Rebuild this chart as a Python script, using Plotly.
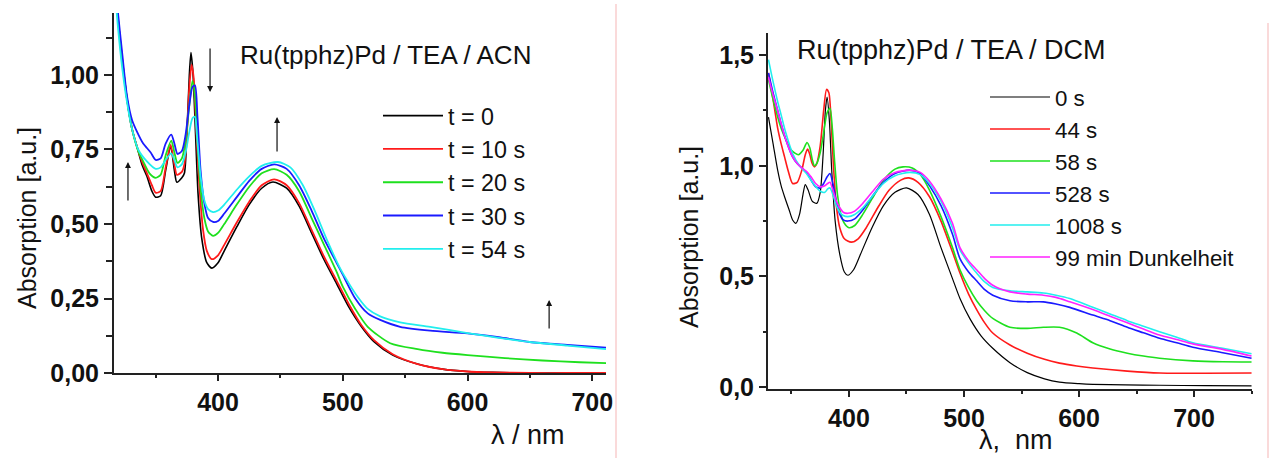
import plotly.graph_objects as go

# ---------------- Left panel: Ru(tpphz)Pd / TEA / ACN ----------------
acn_labels = ["t = 0", "t = 10 s", "t = 20 s", "t = 30 s", "t = 54 s"]
acn_colors = ["#000000", "#ff1a1a", "#1ee01e", "#1a1aff", "#22eeee"]
acn_widths = [1.6, 1.8, 1.8, 1.8, 1.8]

acn_wl_0 = [317, 320, 323, 327, 331, 335, 339, 343, 347, 350, 354, 358, 362, 365, 367, 371, 373,
            375, 377, 378.3, 380, 382, 384, 387, 391, 395, 400, 405, 415, 425, 435, 444, 455, 465,
            475, 485, 495, 505, 515, 525, 540, 560, 580, 600, 620, 650, 680, 711]
acn_a_0 = [1.32, 1.18, 1.06, 0.92, 0.82, 0.76, 0.70, 0.66, 0.61, 0.59, 0.595, 0.68, 0.76, 0.68,
           0.64, 0.655, 0.67, 0.80, 1.0, 1.075, 1.0, 0.80, 0.60, 0.45, 0.37, 0.352, 0.37, 0.41,
           0.49, 0.565, 0.62, 0.641, 0.62, 0.56, 0.47, 0.38, 0.30, 0.22, 0.155, 0.105, 0.06,
           0.03, 0.013, 0.005, 0.002, 0.0, 0.0, 0.0]

acn_wl_10 = [317, 320, 323, 327, 331, 335, 339, 343, 347, 350, 354, 358, 362, 365, 367, 371, 373,
             375, 377, 378.8, 380.5, 382.5, 385, 388, 391, 395, 400, 405, 415, 425, 435, 445, 455,
             465, 475, 485, 495, 505, 515, 525, 540, 560, 580, 600, 620, 650, 680, 711]
acn_a_10 = [1.32, 1.18, 1.06, 0.92, 0.82, 0.76, 0.71, 0.67, 0.63, 0.605, 0.61, 0.69, 0.765, 0.70,
            0.665, 0.675, 0.70, 0.80, 0.96, 1.035, 0.99, 0.82, 0.63, 0.48, 0.41, 0.382, 0.395,
            0.43, 0.505, 0.575, 0.63, 0.65, 0.63, 0.57, 0.48, 0.39, 0.31, 0.23, 0.16, 0.11,
            0.063, 0.03, 0.013, 0.005, 0.002, 0.0, 0.0, 0.0]

acn_wl_20 = [317, 320, 323, 327, 331, 336, 340, 345, 350, 354, 358, 362.5, 365, 367.5, 371, 374,
             377, 379.5, 381.5, 383.5, 386, 389, 392, 396, 400, 405, 415, 425, 435, 445, 455,
             465, 475, 485, 495, 500, 510, 520, 538, 560, 580, 600, 630, 660, 690, 711]
acn_a_20 = [1.32, 1.18, 1.05, 0.92, 0.82, 0.745, 0.71, 0.67, 0.655, 0.665, 0.73, 0.78, 0.74,
            0.705, 0.72, 0.78, 0.90, 0.98, 0.93, 0.78, 0.62, 0.52, 0.475, 0.46, 0.47, 0.50,
            0.565, 0.625, 0.67, 0.684, 0.665, 0.61, 0.52, 0.43, 0.34, 0.29, 0.215, 0.155, 0.10,
            0.08, 0.068, 0.06, 0.05, 0.042, 0.036, 0.033]

acn_wl_30 = [317, 320, 323, 327, 331, 335, 340, 343, 346, 350, 354, 358, 362.5, 365, 367.5, 371,
             374, 377, 379.5, 381.5, 383.5, 386, 389, 392, 396, 400, 405, 415, 425, 435, 445,
             455, 465, 475, 485, 495, 500, 510, 520, 530, 546, 570, 600, 625, 650, 680, 711]
acn_a_30 = [1.34, 1.20, 1.08, 0.93, 0.85, 0.81, 0.77, 0.755, 0.74, 0.715, 0.72, 0.77, 0.80, 0.77,
            0.735, 0.745, 0.80, 0.90, 0.96, 0.965, 0.86, 0.68, 0.57, 0.52, 0.507, 0.51, 0.535,
            0.59, 0.645, 0.685, 0.70, 0.685, 0.63, 0.545, 0.45, 0.37, 0.33, 0.25, 0.20, 0.178,
            0.155, 0.142, 0.133, 0.12, 0.104, 0.094, 0.085]

acn_wl_54 = [317, 320, 323, 327, 331, 336, 343, 350, 354, 358, 362.5, 365, 367.5, 371, 374, 377,
             379.5, 381.5, 383, 386, 389, 392, 396, 400, 405, 415, 425, 435, 448, 458, 468, 478,
             488, 498, 505, 512, 520, 530, 546, 570, 600, 625, 650, 680, 711]
acn_a_54 = [1.30, 1.15, 1.03, 0.91, 0.82, 0.75, 0.71, 0.685, 0.69, 0.715, 0.737, 0.715, 0.69,
            0.70, 0.74, 0.81, 0.855, 0.86, 0.80, 0.66, 0.58, 0.55, 0.54, 0.545, 0.565, 0.615,
            0.66, 0.695, 0.708, 0.69, 0.63, 0.54, 0.44, 0.35, 0.30, 0.255, 0.215, 0.19, 0.17,
            0.155, 0.134, 0.118, 0.104, 0.092, 0.08]

acn_wl = [acn_wl_0, acn_wl_10, acn_wl_20, acn_wl_30, acn_wl_54]
acn_a = [acn_a_0, acn_a_10, acn_a_20, acn_a_30, acn_a_54]

# ---------------- Right panel: Ru(tpphz)Pd / TEA / DCM ----------------
dcm_labels = ["0 s", "44 s", "58 s", "528 s", "1008 s", "99 min Dunkelheit"]
dcm_colors = ["#000000", "#ff1a1a", "#1ee01e", "#1a1aff", "#22eeee", "#ff22ff"]
dcm_widths = [1.2, 1.6, 1.6, 1.6, 1.6, 1.6]

dcm_wl_0 = [330, 334, 338, 341, 344, 348, 351, 354, 357, 360, 362, 364.5, 368, 372, 375, 377.5,
            379.5, 381, 383, 385, 388, 392, 396, 399, 404, 410, 420, 430, 440, 450, 460, 470,
            480, 490, 496.5, 505, 515, 525, 540, 555, 570, 583, 600, 612, 640, 670, 710, 750]
dcm_a_0 = [1.22, 1.10, 0.98, 0.91, 0.86, 0.80, 0.755, 0.74, 0.78, 0.87, 0.915, 0.89, 0.84, 0.83,
           0.88, 1.05, 1.25, 1.31, 1.20, 0.98, 0.75, 0.60, 0.52, 0.505, 0.53, 0.60, 0.72, 0.82,
           0.88, 0.90, 0.87, 0.78, 0.63, 0.49, 0.40, 0.31, 0.23, 0.175, 0.11, 0.065, 0.037,
           0.022, 0.015, 0.012, 0.01, 0.008, 0.006, 0.005]

dcm_wl_44 = [330, 334, 338, 341, 344, 347, 351, 355, 359, 362, 364, 366, 368, 370, 372, 375, 378,
             380.5, 382.5, 384.5, 386.5, 389, 392, 396, 402, 408, 415, 425, 435, 445, 452, 460,
             470, 480, 490, 496.5, 504, 511, 518, 525, 540, 555, 570, 583, 598, 612, 642, 670,
             710, 750]
dcm_a_44 = [1.42, 1.30, 1.17, 1.10, 1.04, 0.98, 0.92, 0.925, 0.98, 1.05, 1.075, 1.05, 1.01,
            0.995, 1.01, 1.09, 1.25, 1.345, 1.33, 1.20, 1.00, 0.82, 0.72, 0.67, 0.655, 0.67,
            0.72, 0.81, 0.89, 0.935, 0.945, 0.925, 0.86, 0.75, 0.61, 0.515, 0.42, 0.35, 0.29,
            0.244, 0.19, 0.153, 0.125, 0.108, 0.095, 0.086, 0.072, 0.063, 0.062, 0.063]

dcm_wl_58 = [330, 334, 338, 341, 345, 350, 356, 360, 363.5, 366, 368, 370, 372, 375, 378, 381,
             383.5, 385.5, 387.5, 390, 393, 396, 400, 405, 412, 420, 430, 440, 447, 455, 462,
             470, 480, 490, 496.5, 504, 511, 518, 525, 540, 555, 569, 583, 598, 612, 627, 642,
             656, 670, 699, 725, 750]
dcm_a_58 = [1.39, 1.30, 1.22, 1.17, 1.12, 1.07, 1.05, 1.07, 1.105, 1.08, 1.03, 1.00, 1.01, 1.06,
            1.15, 1.24, 1.26, 1.17, 1.02, 0.87, 0.78, 0.74, 0.72, 0.73, 0.78, 0.85, 0.935,
            0.985, 0.995, 0.99, 0.96, 0.89, 0.77, 0.63, 0.53, 0.45, 0.39, 0.345, 0.31, 0.27,
            0.265, 0.27, 0.27, 0.244, 0.20, 0.172, 0.153, 0.14, 0.13, 0.118, 0.114, 0.113]

dcm_wl_528 = [330, 334, 338, 341, 345, 351, 355, 359, 363, 367, 371, 375, 378, 381, 383.5, 386,
              389, 392, 395, 399, 405, 412, 420, 430, 440, 453, 462, 470, 480, 490, 496.5, 504,
              511, 518, 525, 540, 555, 569, 580, 592, 612, 627, 642, 656, 670, 685, 699, 725, 750]
dcm_a_528 = [1.42, 1.33, 1.25, 1.19, 1.12, 1.04, 1.01, 0.99, 0.97, 0.935, 0.905, 0.90, 0.92,
             0.95, 0.965, 0.92, 0.84, 0.78, 0.755, 0.75, 0.76, 0.80, 0.86, 0.925, 0.965, 0.98,
             0.965, 0.91, 0.82, 0.69, 0.58, 0.52, 0.48, 0.44, 0.415, 0.39, 0.385, 0.385, 0.375,
             0.36, 0.325, 0.30, 0.27, 0.245, 0.22, 0.20, 0.18, 0.155, 0.13]

dcm_wl_1008 = [330, 334, 338, 341, 345, 351, 357, 363, 369, 375, 379, 381.5, 383.5, 386, 389,
               392, 395, 399, 405, 412, 420, 430, 440, 453, 462, 470, 480, 490, 496.5, 504, 511,
               518, 525, 540, 555, 569, 580, 592, 612, 627, 642, 656, 670, 685, 699, 725, 750]
dcm_a_1008 = [1.48, 1.38, 1.29, 1.23, 1.15, 1.055, 1.00, 0.965, 0.92, 0.885, 0.88, 0.895, 0.90,
              0.87, 0.82, 0.79, 0.775, 0.77, 0.78, 0.81, 0.86, 0.92, 0.955, 0.97, 0.96, 0.92,
              0.84, 0.72, 0.62, 0.56, 0.515, 0.475, 0.45, 0.435, 0.43, 0.425, 0.415, 0.40, 0.36,
              0.33, 0.30, 0.275, 0.25, 0.225, 0.20, 0.175, 0.15]

dcm_wl_99 = [330, 334, 338, 341, 345, 351, 355, 359, 363, 367, 371, 375, 379, 381.5, 383.5, 386,
             389, 392, 395, 399, 405, 412, 420, 430, 440, 453, 462, 470, 480, 490, 496.5, 504,
             511, 518, 525, 540, 555, 569, 580, 592, 612, 627, 642, 656, 670, 685, 699, 725, 750]
dcm_a_99 = [1.40, 1.32, 1.25, 1.19, 1.12, 1.04, 1.01, 0.99, 0.975, 0.95, 0.92, 0.905, 0.91, 0.92,
            0.925, 0.89, 0.84, 0.81, 0.79, 0.785, 0.795, 0.83, 0.88, 0.94, 0.97, 0.98, 0.97,
            0.93, 0.85, 0.74, 0.63, 0.57, 0.53, 0.49, 0.46, 0.43, 0.42, 0.415, 0.405, 0.385,
            0.35, 0.32, 0.29, 0.262, 0.235, 0.215, 0.195, 0.17, 0.14]

dcm_wl = [dcm_wl_0, dcm_wl_44, dcm_wl_58, dcm_wl_528, dcm_wl_1008, dcm_wl_99]
dcm_a = [dcm_a_0, dcm_a_44, dcm_a_58, dcm_a_528, dcm_a_1008, dcm_a_99]

W, H = 1276, 458
FONT = "Liberation Sans, Arial, sans-serif"


def px(x):
    return x / W


def py(y):
    return 1 - y / H


fig = go.Figure()

for wl, a, name, col, lw in zip(acn_wl, acn_a, acn_labels, acn_colors, acn_widths):
    fig.add_trace(go.Scatter(x=wl, y=a, name=name, mode="lines", xaxis="x", yaxis="y",
                             line=dict(color=col, width=lw, shape="spline", smoothing=0.7),
                             legend="legend"))

for wl, a, name, col, lw in zip(dcm_wl, dcm_a, dcm_labels, dcm_colors, dcm_widths):
    fig.add_trace(go.Scatter(x=wl, y=a, name=name, mode="lines", xaxis="x2", yaxis="y2",
                             line=dict(color=col, width=lw, shape="spline", smoothing=0.7),
                             legend="legend2"))

tick_font = dict(family=FONT, size=25, color="#111111", weight="bold")
axis_common = dict(showline=True, linecolor="#222222", linewidth=2, ticks="outside",
                   tickcolor="#222222", tickwidth=1.5, showgrid=False, zeroline=False,
                   tickfont=tick_font, automargin=False)

fig.update_layout(
    width=W, height=H,
    margin=dict(l=0, r=0, t=0, b=0, pad=0, autoexpand=False),
    paper_bgcolor="white", plot_bgcolor="white",
    separators=",.",
    font=dict(family=FONT, color="#111111"),
    xaxis=dict(domain=[px(114), px(606)], range=[316.6, 711], anchor="y",
               tickvals=[400, 500, 600, 700], ticklen=6,
               minor=dict(tickvals=[350, 450, 550, 650], ticklen=3, ticks="outside",
                          tickcolor="#222222", tickwidth=1.5),
               **axis_common),
    yaxis=dict(domain=[py(373), py(13)], range=[0, 1.208], anchor="x",
               tickvals=[0, 0.25, 0.5, 0.75, 1.0], tickformat=".2f", ticklen=8,
               minor=dict(tickvals=[0.125, 0.375, 0.625, 0.875, 1.125], ticklen=6,
                          ticks="outside", tickcolor="#222222", tickwidth=1.5),
               **axis_common),
    xaxis2=dict(domain=[px(768), px(1252)], range=[329.6, 750.4], anchor="y2",
                tickvals=[400, 500, 600, 700], ticklen=6,
                minor=dict(tickvals=[350, 450, 550, 650, 750], ticklen=3, ticks="outside",
                           tickcolor="#222222", tickwidth=1.5),
                **axis_common),
    yaxis2=dict(domain=[py(389), py(33)], range=[-0.009, 1.6], anchor="x2",
                tickvals=[0, 0.5, 1.0, 1.5], tickformat=".1f", ticklen=7,
                minor=dict(tickvals=[0.25, 0.75, 1.25], ticklen=3, ticks="outside",
                           tickcolor="#222222", tickwidth=1.5),
                **axis_common),
    legend=dict(x=px(378), y=py(94), xanchor="left", yanchor="top",
                bgcolor="rgba(0,0,0,0)", borderwidth=0, itemwidth=60,
                font=dict(family=FONT, size=23.3, color="#111111")),
    legend2=dict(x=px(985), y=py(76), xanchor="left", yanchor="top",
                 bgcolor="rgba(0,0,0,0)", borderwidth=0, itemwidth=60,
                 font=dict(family=FONT, size=22.3, color="#111111")),
)

annotations = [
    dict(text="Ru(tpphz)Pd / TEA / ACN", x=px(238), y=py(55), xref="paper", yref="paper",
         xanchor="left", yanchor="middle", showarrow=False,
         font=dict(family=FONT, size=26, color="#111111")),
    dict(text="Ru(tpphz)Pd / TEA / DCM", x=px(795), y=py(50), xref="paper", yref="paper",
         xanchor="left", yanchor="middle", showarrow=False,
         font=dict(family=FONT, size=27, color="#111111")),
    dict(text="Absorption [a.u.]", x=px(27), y=py(218), xref="paper", yref="paper",
         xanchor="center", yanchor="middle", textangle=-90, showarrow=False,
         font=dict(family=FONT, size=25, color="#111111")),
    dict(text="Absorption [a.u.]", x=px(689), y=py(237), xref="paper", yref="paper",
         xanchor="center", yanchor="middle", textangle=-90, showarrow=False,
         font=dict(family=FONT, size=25, color="#111111")),
    dict(text="λ / nm", x=px(528), y=py(435), xref="paper", yref="paper",
         xanchor="center", yanchor="middle", showarrow=False,
         font=dict(family=FONT, size=27, color="#111111")),
    dict(text="λ,  nm", x=px(1016), y=py(440), xref="paper", yref="paper",
         xanchor="center", yanchor="middle", showarrow=False,
         font=dict(family=FONT, size=27, color="#111111")),
]

# arrows indicating the direction of change over time (left panel)
arrow_specs = [  # (wavelength, tail value, head value)
    (327.8, 0.574, 0.708),
    (393.6, 1.094, 0.943),
    (447.3, 0.738, 0.859),
    (665.4, 0.144, 0.245),
]
for wl, a_from, a_to in arrow_specs:
    annotations.append(dict(x=wl, y=a_to, ax=wl, ay=a_from, xref="x", yref="y",
                            axref="x", ayref="y", text="", showarrow=True,
                            arrowhead=2, arrowsize=1.0, arrowwidth=1.2,
                            arrowcolor="#111111"))

fig.update_layout(annotations=annotations)

# thin separator rules at the right of each panel
fig.update_layout(shapes=[
    dict(type="line", xref="paper", yref="paper", x0=px(616), x1=px(616), y0=0, y1=py(4),
         line=dict(color="#f5b5b5", width=1)),
    dict(type="line", xref="paper", yref="paper", x0=px(1268), x1=px(1268), y0=0, y1=py(23),
         line=dict(color="#f5b5b5", width=1)),
])

fig.write_html("out.html")
